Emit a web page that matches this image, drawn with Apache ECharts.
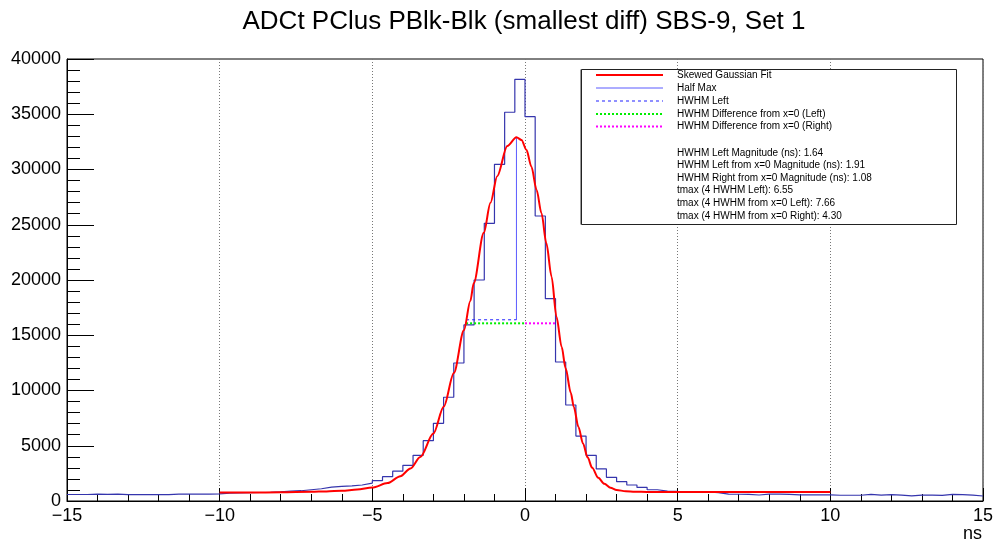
<!DOCTYPE html>
<html><head><meta charset="utf-8">
<script src="https://cdn.jsdelivr.net/npm/echarts@6/dist/echarts.min.js"></script>
<style>html,body{margin:0;padding:0;background:#fff}#c{width:997px;height:544px}</style>
</head><body><div id="c"></div>
<script>
const titleText = 'ADCt PClus PBlk-Blk (smallest diff) SBS-9, Set 1';
const xAxisName = 'ns';
const xMin = -15, xMax = 15, binWidth = 1 / 3;
const xTickInterval = 5;
const yMin = 0, yMax = 40000, yTickInterval = 5000;

// histogram counts, 90 bins of 1/3 ns from -15 to 15
const histCounts = [
  590, 590, 630, 600, 630, 580, 570, 570, 575, 580,
  630, 630, 630, 620, 640, 720, 740, 750, 770, 790,
  830, 890, 930, 1020, 1110, 1250, 1330, 1360, 1450, 1620,
  1850, 2200, 2700, 3230, 4130, 5460, 7030, 9390, 12490, 15930,
  20000, 25130, 30470, 35180, 38160, 34780, 25790, 18310, 12580, 8690,
  5880, 4135, 2900, 2140, 1750, 1450, 1230, 1020, 900, 870,
  850, 840, 830, 750, 620, 610, 600, 545, 630, 630,
  600, 550, 550, 550, 550, 520, 520, 520, 600, 540,
  570, 540, 470, 540, 540, 510, 600, 570, 540, 450
];

// skewed gaussian fit curve
const fitX = [-10, -9, -8, -7, -6.5, -6, -5.5, -5, -4.5, -4.08, -3.75, -3.43, -3.0, -2.66, -2.33, -2.0, -1.79, -1.68, -1.35, -1.13, -0.91, -0.58, -0.28,
  -0.115, 0.05, 0.21, 0.38, 0.54, 0.70, 0.87, 1.03, 1.20, 1.33, 1.5, 1.6, 1.75, 1.9, 2.05, 2.2, 2.4, 2.6, 2.8, 3.0, 3.3, 3.6, 4.0, 5, 7, 10];
const fitY = [760, 770, 790, 830, 870, 930, 1030, 1220, 1620, 2250, 2950, 3980, 6100, 8550, 11580, 15450, 18100, 19700, 24270, 26990, 29400, 32130, 32910,
  32670, 31760, 30250, 28150, 26040, 23320, 20300, 16680, 13960, 12010, 9800, 8500, 6700, 5200, 3950, 3000, 2100, 1550, 1200, 1000, 880, 840, 825, 820, 820, 820];

const peakX = -0.28, peakY = 32910;
const halfMaxY = 16400;
const hwhmLeftX = -1.93;
const diffY = 16080;
const diffLeftX = -1.93, diffRightX = 1.03;

const legendLabels = ['Skewed Gaussian Fit', 'Half Max', 'HWHM Left', 'HWHM Difference from x=0 (Left)', 'HWHM Difference from x=0 (Right)'];
const infoLines = [
  'HWHM Left Magnitude (ns): 1.64',
  'HWHM Left from x=0 Magnitude (ns): 1.91',
  'HWHM Right from x=0 Magnitude (ns): 1.08',
  'tmax (4 HWHM Left): 6.55',
  'tmax (4 HWHM from x=0 Left): 7.66',
  'tmax (4 HWHM from x=0 Right): 4.30'
];

const FONT = "'Liberation Sans', Arial, Helvetica, sans-serif";
const histData = histCounts.map((c, k) => [xMin + k * binWidth, c]);
histData.push([xMax, histCounts[histCounts.length - 1]]);
const fitData = fitX.map((x, i) => [x, fitY[i]]);

const legendStyles = [
  { stroke: '#ff0000', lineWidth: 2 },
  { stroke: '#5b5bff', lineWidth: 1 },
  { stroke: '#2020ff', lineWidth: 1, lineDash: [3, 3] },
  { stroke: '#00ee00', lineWidth: 2, lineDash: [2, 2] },
  { stroke: '#ff00ff', lineWidth: 2, lineDash: [2, 2] }
];
const legY = [75, 88, 101, 114, 126.5];
const infoY = [153, 165.5, 178, 190.5, 203, 216];

const graphics = [
  { type: 'text', style: { text: titleText, x: 524, y: 22, font: '26px ' + FONT, fill: '#000', textAlign: 'center', textVerticalAlign: 'middle' } },
  { type: 'text', style: { text: xAxisName, x: 982, y: 534, font: '18px ' + FONT, fill: '#000', textAlign: 'right', textVerticalAlign: 'middle' } },
  { type: 'rect', z: 10, shape: { x: 580, y: 69.5, width: 2, height: 155 }, style: { fill: '#9a9a9a' } },
  { type: 'rect', z: 10, shape: { x: 581.5, y: 69.5, width: 375, height: 155 }, style: { fill: '#fff', stroke: '#222', lineWidth: 1 } }
];
legendLabels.forEach((t, i) => {
  graphics.push({ type: 'line', z: 11, shape: { x1: 596, y1: legY[i], x2: 663, y2: legY[i] }, style: legendStyles[i] });
  graphics.push({ type: 'text', z: 11, style: { text: t, x: 677, y: legY[i], font: '10px ' + FONT, fill: '#000', textAlign: 'left', textVerticalAlign: 'middle' } });
});
infoLines.forEach((t, i) => {
  graphics.push({ type: 'text', z: 11, style: { text: t, x: 677, y: infoY[i], font: '10px ' + FONT, fill: '#000', textAlign: 'left', textVerticalAlign: 'middle' } });
});

const chart = echarts.init(document.getElementById('c'), null, { renderer: 'canvas' });
chart.setOption({
  animation: false,
  backgroundColor: '#fff',
  textStyle: { fontFamily: FONT },
  grid: { left: 67, right: 14, top: 59, bottom: 43, show: true, borderColor: '#000', borderWidth: 1, backgroundColor: 'transparent' },
  xAxis: {
    type: 'value', min: xMin, max: xMax, interval: xTickInterval,
    axisLine: { show: true, onZero: false, lineStyle: { color: '#000', width: 1 } },
    axisTick: { show: true, inside: true, length: 13, lineStyle: { color: '#000' } },
    minorTick: { show: true, splitNumber: 5, length: 7, lineStyle: { color: '#000' } },
    splitLine: { show: true, lineStyle: { color: '#777', type: [1, 2], width: 1 } },
    axisLabel: { fontSize: 18, color: '#000', margin: 6, fontFamily: FONT, showMinLabel: true, showMaxLabel: true,
      formatter: v => String(v).replace('-', '\u2212') }
  },
  yAxis: {
    type: 'value', min: yMin, max: yMax, interval: yTickInterval,
    axisLine: { show: true, onZero: false, lineStyle: { color: '#000', width: 1 } },
    axisTick: { show: true, inside: true, length: 27, lineStyle: { color: '#000' } },
    minorTick: { show: true, splitNumber: 5, length: 13, lineStyle: { color: '#000' } },
    splitLine: { show: false },
    axisLabel: { fontSize: 18, color: '#000', margin: 6, fontFamily: FONT, formatter: v => String(v) }
  },
  series: [
    { name: 'Histogram', type: 'line', step: 'end', data: histData, showSymbol: false, z: 2,
      lineStyle: { color: '#3535ad', width: 1.2 }, itemStyle: { color: '#3535ad' } },
    { name: legendLabels[0], type: 'line', data: fitData, showSymbol: false, smooth: 0.3, smoothMonotone: 'x', z: 4,
      lineStyle: { color: '#ff0000', width: 2 }, itemStyle: { color: '#ff0000' } },
    { name: legendLabels[1], type: 'line', data: [[peakX, halfMaxY], [peakX, peakY]], showSymbol: false, z: 3,
      lineStyle: { color: '#5b5bff', width: 1 } },
    { name: legendLabels[2], type: 'line', data: [[hwhmLeftX, halfMaxY], [peakX, halfMaxY]], showSymbol: false, z: 3,
      lineStyle: { color: '#2020ff', width: 1, type: [3, 3] } },
    { name: legendLabels[3], type: 'line', data: [[diffLeftX, diffY], [0, diffY]], showSymbol: false, z: 3,
      lineStyle: { color: '#00ee00', width: 2, type: [2, 2] } },
    { name: legendLabels[4], type: 'line', data: [[0, diffY], [diffRightX, diffY]], showSymbol: false, z: 3,
      lineStyle: { color: '#ff00ff', width: 2, type: [2, 2] } }
  ],
  graphic: graphics
});
</script>
</body></html>
